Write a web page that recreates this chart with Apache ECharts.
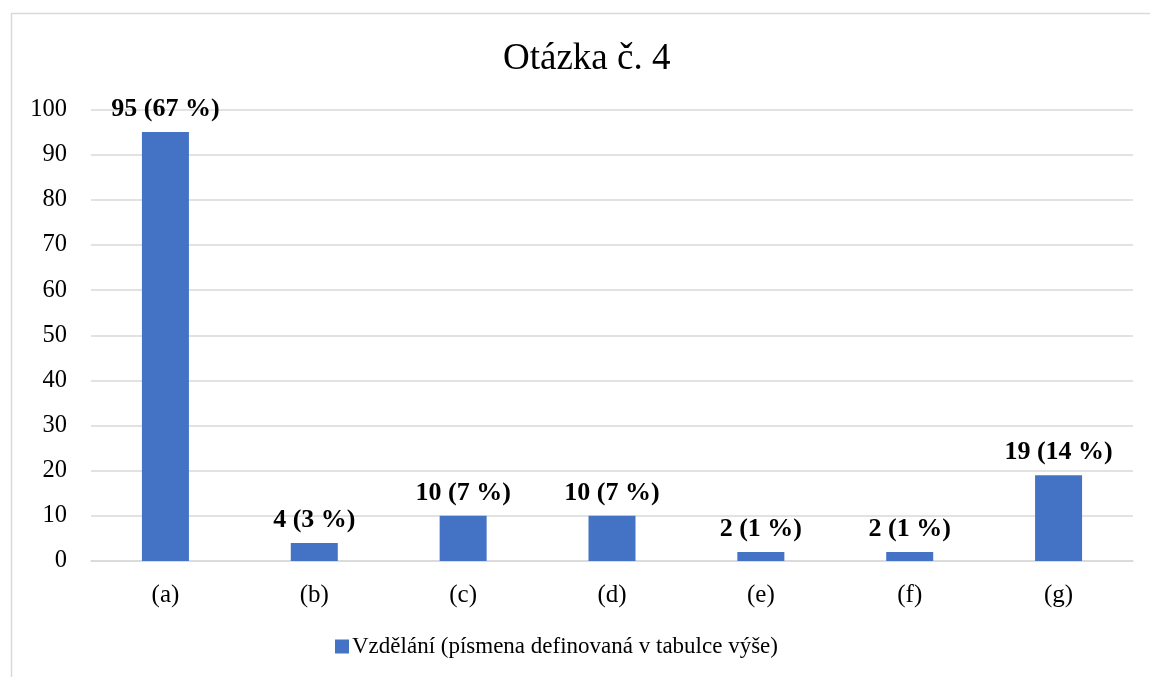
<!DOCTYPE html>
<html>
<head>
<meta charset="utf-8">
<script src="https://cdn.jsdelivr.net/npm/echarts@6/dist/echarts.min.js"></script>
<style>
html,body{margin:0;padding:0;background:#fff;}
#chart{width:1150px;height:677px;}
</style>
</head>
<body>
<div id="chart"></div>
<script>
const titleText = 'Otázka č. 4';
const categories = ['(a)', '(b)', '(c)', '(d)', '(e)', '(f)', '(g)'];
const values = [95, 4, 10, 10, 2, 2, 19];
const percents = [67, 3, 7, 7, 1, 1, 14];
const seriesName = 'Vzdělání (písmena definovaná v tabulce výše)';
const yTicks = { min: 0, max: 100, interval: 10 };

const FONT = '"Liberation Serif", "Times New Roman", serif';
const chart = echarts.init(document.getElementById('chart'));
chart.setOption({
  animation: false,
  backgroundColor: '#fff',
  textStyle: { fontFamily: FONT },
  graphic: [{
    type: 'rect',
    shape: { x: 11.5, y: 13.5, width: 1200, height: 800 },
    style: { fill: 'none', stroke: '#D9D9D9', lineWidth: 1.5 },
    silent: true, z: -10
  }],
  title: {
    text: titleText,
    left: 498,
    top: 36,
    textStyle: { fontFamily: FONT, fontSize: 37, fontWeight: 'normal', color: '#000' }
  },
  legend: {
    data: [seriesName],
    top: 635,
    left: 335,
    padding: 0,
    itemWidth: 14, itemHeight: 14, itemGap: 4,
    icon: 'rect',
    textStyle: { fontFamily: FONT, fontSize: 23, color: '#000', padding: [0,0,0,-2] }
  },
  grid: { left: 91, right: 17, top: 109.5, bottom: 116 },
  xAxis: {
    type: 'category',
    data: categories,
    axisLine: { lineStyle: { color: '#D9D9D9', width: 1.5 } },
    axisTick: { show: false },
    axisLabel: { fontFamily: FONT, fontSize: 25, color: '#000', margin: 22 }
  },
  yAxis: {
    type: 'value',
    min: yTicks.min, max: yTicks.max, interval: yTicks.interval,
    axisLine: { show: false },
    axisTick: { show: false },
    splitLine: { lineStyle: { color: '#D9D9D9', width: 1.5 } },
    axisLabel: { fontFamily: FONT, fontSize: 24.5, color: '#000', margin: 24 }
  },
  series: [{
    name: seriesName,
    type: 'bar',
    data: values,
    barWidth: 47,
    itemStyle: { color: '#4472C4' },
    label: {
      show: true,
      position: 'top',
      distance: 10,
      fontFamily: FONT,
      fontSize: 26,
      fontWeight: 'bold',
      color: '#000',
      formatter: p => p.value + ' (' + percents[p.dataIndex] + ' %)'
    }
  }]
});
</script>
</body>
</html>
